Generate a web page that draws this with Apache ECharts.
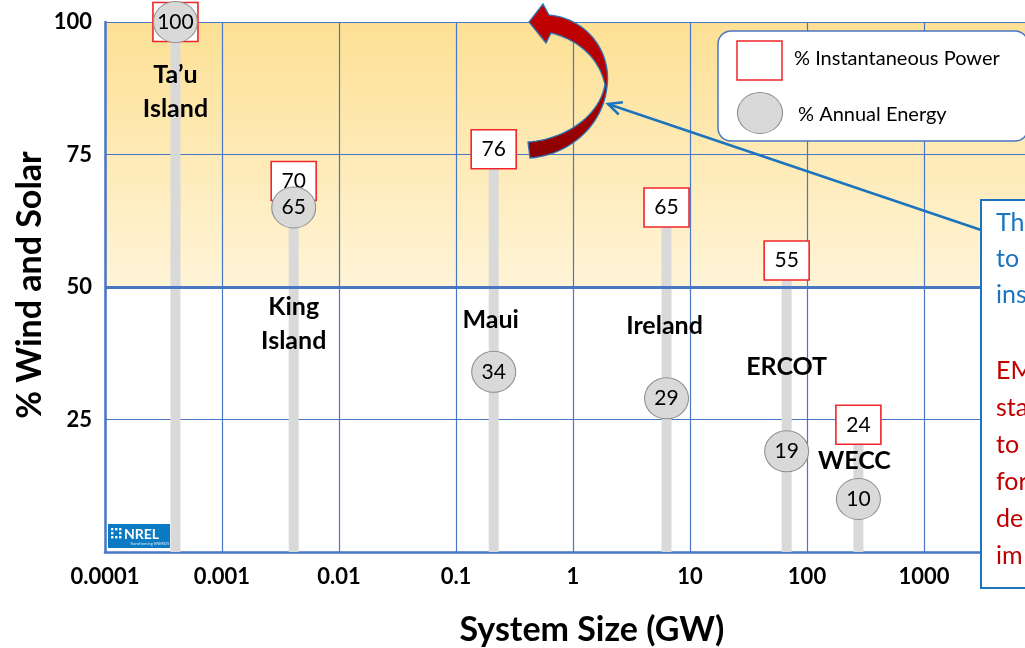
<!DOCTYPE html>
<html>
<head>
<meta charset="utf-8">
<script src="https://cdn.jsdelivr.net/npm/echarts@6/dist/echarts.min.js"></script>
<style>
  html, body { margin: 0; padding: 0; background: #ffffff; }
  #chart { width: 1025px; height: 648px; }
</style>
</head>
<body>
<div id="chart"></div>
<script>
// Power systems: size (GW), peak instantaneous share and annual energy share of wind + solar
const sites = ['Ta’u\nIsland', 'King\nIsland', 'Maui', 'Ireland', 'ERCOT', 'WECC'];
const systemSizeGW = [0.0004, 0.0041, 0.21, 6.3, 67, 275];
const instantaneousPower = [100, 70, 76, 65, 55, 24];
const annualEnergy = [100, 65, 34, 29, 19, 10];
const yTickValues = [0, 25, 50, 75, 100];
const xTickLabels = ['0.0001', '0.001', '0.01', '0.1', '1', '10', '100', '1000', '10000'];
const noteLinesBlue = ['Th', 'to', 'ins'];
const noteLinesRed = ['EM', 'sta', 'to', 'for', 'de', 'im'];

// layout (pixel) for the site name annotations: centre of the first text line
const siteLabelTop = [75, 307, 320, 326, 367, 461];
const siteLabelDx = [0, 0, -3, -2, 0, -4];

const FONT = 'Lato, "Open Sans", sans-serif';
const GRID_BLUE = '#4a76c6';

const chart = echarts.init(document.getElementById('chart'), null, { renderer: 'canvas' });

const barData = systemSizeGW.map((x, i) => [x, instantaneousPower[i]]);
const boxData = systemSizeGW.map((x, i) => [x, instantaneousPower[i]]);
const circleData = systemSizeGW.map((x, i) => [x, annualEnergy[i]]);

chart.setOption({
  animation: false,
  grid: {
    left: 105, top: 22, bottom: 96, right: -16,
    outerBoundsMode: 'none',
    containLabel: false,
    show: true,
    borderWidth: 0,
    backgroundColor: new echarts.graphic.LinearGradient(0, 0, 0, 1, [
      { offset: 0, color: '#fde094' },
      { offset: 0.499, color: '#fff4d7' },
      { offset: 0.5, color: '#ffffff' },
      { offset: 1, color: '#ffffff' }
    ])
  },
  xAxis: {
    type: 'log',
    logBase: 10,
    min: 0.0001,
    max: 10000,
    axisLine: { show: true, lineStyle: { color: GRID_BLUE, width: 2.5 } },
    axisTick: { show: false },
    splitLine: { show: true, lineStyle: { color: GRID_BLUE, width: 1.2 } },
    axisLabel: {
      margin: 14,
      fontSize: 22, fontWeight: 'bold', color: '#000', fontFamily: FONT,
      formatter: v => xTickLabels[Math.round(Math.log10(v)) + 4]
    }
  },
  yAxis: {
    type: 'value',
    min: yTickValues[0],
    max: yTickValues[yTickValues.length - 1],
    interval: 25,
    axisLine: { show: true, lineStyle: { color: GRID_BLUE, width: 2.5 } },
    axisTick: { show: false },
    splitLine: { show: true, lineStyle: { color: GRID_BLUE, width: 1.2 } },
    axisLabel: {
      margin: 13,
      fontSize: 22, fontWeight: 'bold', color: '#000', fontFamily: FONT,
      formatter: v => (v === 0 ? '' : String(v))
    }
  },
  series: [
    {
      // gray stems from 0 up to the instantaneous share
      type: 'custom',
      clip: false,
      z: 2,
      data: barData,
      renderItem: (params, api) => {
        const top = api.coord([api.value(0), api.value(1)]);
        const bottom = api.coord([api.value(0), 0]);
        return {
          type: 'rect',
          shape: { x: top[0] - 5, y: top[1], width: 10, height: bottom[1] - top[1] },
          style: { fill: '#d9d9d9' }
        };
      },
      markLine: {
        silent: true,
        symbol: 'none',
        label: { show: false },
        lineStyle: { color: GRID_BLUE, width: 3, type: 'solid' },
        data: [{ yAxis: 50 }]
      }
    },
    {
      name: '% Instantaneous Power',
      type: 'scatter',
      clip: false,
      z: 3,
      symbol: 'rect',
      symbolSize: [45, 39],
      itemStyle: { color: '#ffffff', borderColor: '#f0262a', borderWidth: 1.5, opacity: 1 },
      label: {
        show: true, position: 'inside', color: '#000', fontSize: 21, fontFamily: FONT,
        formatter: p => String(p.value[1])
      },
      data: boxData
    },
    {
      name: '% Annual Energy',
      type: 'scatter',
      clip: false,
      z: 4,
      symbol: 'circle',
      symbolSize: [44, 41],
      itemStyle: { color: '#d9d9d9', borderColor: '#8c8c8c', borderWidth: 1, opacity: 1 },
      label: {
        show: true, position: 'inside', color: '#000', fontSize: 21, fontFamily: FONT,
        formatter: p => String(p.value[1])
      },
      data: circleData
    }
  ]
});

// ---- annotations -------------------------------------------------------
const graphics = [];

function textStyle(text, font, fill, hAlign, vAlign, extra) {
  return Object.assign({
    text: text, font: font, fill: fill,
    textAlign: hAlign, align: hAlign,
    textVerticalAlign: vAlign, verticalAlign: vAlign
  }, extra || {});
}

// axis titles
graphics.push({
  type: 'text', x: 30, y: 285, rotation: Math.PI / 2, z: 10,
  style: textStyle('% Wind and Solar', 'bold 34px ' + FONT, '#000', 'center', 'middle')
});
graphics.push({
  type: 'text', x: 592, y: 630, z: 10,
  style: textStyle('System Size (GW)', 'bold 34px ' + FONT, '#000', 'center', 'middle')
});

// site names next to their stems
sites.forEach((name, i) => {
  const px = chart.convertToPixel({ gridIndex: 0 }, [systemSizeGW[i], 0]);
  graphics.push({
    type: 'text', x: px[0] + siteLabelDx[i], y: siteLabelTop[i] - 17, z: 10,
    style: textStyle(name, 'bold 25px ' + FONT, '#000', 'center', 'top', { lineHeight: 34 })
  });
});

// legend box
graphics.push({
  type: 'rect', z: 20,
  shape: { x: 718, y: 31, width: 310, height: 110, r: 13 },
  style: { fill: '#ffffff', stroke: GRID_BLUE, lineWidth: 1.5 }
});
graphics.push({
  type: 'rect', z: 21,
  shape: { x: 737, y: 41, width: 45, height: 39 },
  style: { fill: '#ffffff', stroke: '#f0262a', lineWidth: 1.5 }
});
graphics.push({
  type: 'circle', z: 21, x: 760, y: 113, scaleX: 1.1, scaleY: 1,
  shape: { cx: 0, cy: 0, r: 20.5 },
  style: { fill: '#d9d9d9', stroke: '#8c8c8c', lineWidth: 1 }
});
graphics.push({
  type: 'text', x: 794, y: 59, z: 21,
  style: textStyle('% Instantaneous Power', '20px ' + FONT, '#000', 'left', 'middle')
});
graphics.push({
  type: 'text', x: 798, y: 115, z: 21,
  style: textStyle('% Annual Energy', '20px ' + FONT, '#000', 'left', 'middle')
});

// curved red arrow, outlined from cubic segments
function cubicPoints(p0, c1, c2, p1, n) {
  const pts = [];
  for (let k = 1; k <= n; k++) {
    const t = k / n, u = 1 - t;
    pts.push([
      u * u * u * p0[0] + 3 * u * u * t * c1[0] + 3 * u * t * t * c2[0] + t * t * t * p1[0],
      u * u * u * p0[1] + 3 * u * u * t * c1[1] + 3 * u * t * t * c2[1] + t * t * t * p1[1]
    ]);
  }
  return pts;
}
const arrowPts = [[528, 142]];
arrowPts.push(...cubicPoints([528, 142], [560, 140], [598, 120], [605, 85], 24));
arrowPts.push(...cubicPoints([605, 85], [600, 60], [580, 40], [551, 33], 24));
arrowPts.push([546, 43], [529, 22], [543, 4], [549, 15]);
arrowPts.push(...cubicPoints([549, 15], [585, 18], [612, 50], [607, 87], 24));
arrowPts.push(...cubicPoints([607, 87], [603, 125], [570, 155], [530, 158], 24));
graphics.push({
  type: 'polygon', z: 25,
  shape: { points: arrowPts },
  style: {
    fill: new echarts.graphic.LinearGradient(0, 0, 0, 1, [
      { offset: 0, color: '#c40000' },
      { offset: 0.55, color: '#b00000' },
      { offset: 1, color: '#8a0000' }
    ]),
    stroke: '#2e75b6', lineWidth: 1.3
  }
});

// callout pointer from the note box to the arrow
(function () {
  const x1 = 990, y1 = 233, x2 = 608, y2 = 104;
  const len = Math.hypot(x1 - x2, y1 - y2);
  const ux = (x1 - x2) / len, uy = (y1 - y2) / len;
  const head = 15, a = Math.PI / 7;
  const rot = (ang) => [x2 + head * (ux * Math.cos(ang) - uy * Math.sin(ang)),
                        y2 + head * (ux * Math.sin(ang) + uy * Math.cos(ang))];
  graphics.push({
    type: 'line', z: 24,
    shape: { x1: x1, y1: y1, x2: x2, y2: y2 },
    style: { stroke: '#1b74bd', lineWidth: 2.5 }
  });
  graphics.push({
    type: 'polyline', z: 24,
    shape: { points: [rot(a), [x2, y2], rot(-a)] },
    style: { stroke: '#1b74bd', lineWidth: 2.5, fill: null }
  });
})();

// note box on the right
graphics.push({
  type: 'rect', z: 30,
  shape: { x: 981, y: 200, width: 80, height: 388 },
  style: { fill: '#ffffff', stroke: '#1b74bd', lineWidth: 2 }
});
noteLinesBlue.forEach((t, i) => {
  graphics.push({
    type: 'text', x: 996, y: 223 + i * 36, z: 31,
    style: textStyle(t, '25px ' + FONT, '#1b74bd', 'left', 'middle')
  });
});
noteLinesRed.forEach((t, i) => {
  graphics.push({
    type: 'text', x: 996, y: 371 + i * 37, z: 31,
    style: textStyle(t, '25px ' + FONT, '#c00000', 'left', 'middle')
  });
});

// NREL badge
graphics.push({
  type: 'rect', z: 12,
  shape: { x: 108, y: 524, width: 62, height: 24 },
  style: { fill: '#0a7bc2' }
});
[[0,0],[4,0],[8,0],[0,4],[8,4],[0,8],[4,8],[8,8]].forEach(d => {
  graphics.push({
    type: 'rect', z: 13,
    shape: { x: 111 + d[0], y: 528 + d[1], width: 2.4, height: 2.4 },
    style: { fill: '#ffffff' }
  });
});
graphics.push({
  type: 'text', x: 124, y: 534, z: 13,
  style: textStyle('NREL', 'bold 14px ' + FONT, '#ffffff', 'left', 'middle')
});
graphics.push({
  type: 'text', x: 130, y: 544, z: 13,
  style: textStyle('Transforming ENERGY', '4px ' + FONT, '#d8ecf8', 'left', 'middle')
});

chart.setOption({ graphic: graphics });
</script>
</body>
</html>
